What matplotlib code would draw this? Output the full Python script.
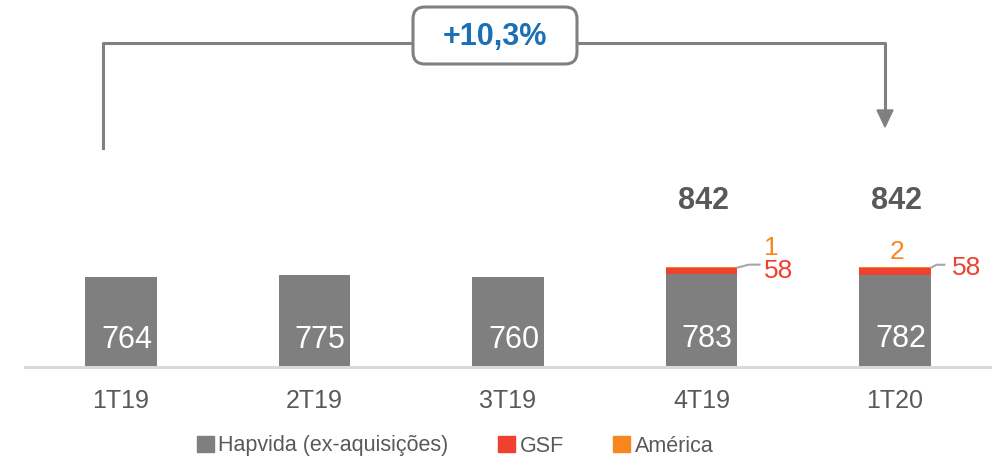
import matplotlib
matplotlib.use("Agg")
import matplotlib.pyplot as plt
import matplotlib.transforms as mtransforms
from matplotlib.patches import FancyBboxPatch, Patch
import numpy as np

plt.rcParams['font.family'] = ['Liberation Sans', 'DejaVu Sans']

# dados
quarters = ["1T19", "2T19", "3T19", "4T19", "1T20"]
hapvida = [764, 775, 760, 783, 782]
gsf = [0, 0, 0, 58, 58]
america = [0, 0, 0, 1, 2]
totals = [None, None, None, 842, 842]
growth_label = "+10,3%"

GRAY = "#7F7F7F"
RED = "#EE4130"
ORANGE = "#F7861E"
DARK = "#595959"
BLUE = "#1A6FB5"

W, H = 992, 462
fig = plt.figure(figsize=(W / 100, H / 100), dpi=100)
base_px = 95          # baseline (px from bottom)
scale = 0.1182        # px per unit
ax = fig.add_axes([0, base_px / H, 1, (H - base_px) / H])
x = np.arange(len(quarters))
ax.set_xlim(-121 / 193.5, (W - 121) / 193.5)
ax.set_ylim(0, (H - base_px) / scale)

bw = 0.372
hap = np.array(hapvida)
gs = np.array(gsf)
am = np.array(america)
ax.bar(x, hap, bw, color=GRAY, zorder=2)
ax.bar(x, gs, bw, bottom=hap, color=RED, zorder=2)
ax.bar(x, am, bw, bottom=hap + gs, color=ORANGE, zorder=2)

# baseline
blend = mtransforms.blended_transform_factory(ax.transAxes, ax.transData)
ax.plot([25 / W, 991 / W], [0, 0], transform=blend,
        color="#D9D9D9", lw=2.2, clip_on=False, zorder=3)

# posicoes das etiquetas laterais (GSF) por barra
gsf_text_dx = {3: 0.323, 4: 0.295}
gsf_text_dy = {3: -28, 4: 0}
lead_dx = {3: (0.245, 0.30), 4: (0.215, 0.255)}
am_dx = {3: 0.36, 4: 0.01}
am_dy = {3: 165, 4: 130}

for i in x:
    ax.text(i + 0.03, hap[i] * 0.3, str(hap[i]), ha="center", va="center",
            color="white", fontsize=22)
    if gs[i] > 0:
        top = hap[i] + gs[i]
        d1, d2 = lead_dx[i]
        ax.plot([i + bw / 2, i + d1, i + d2], [top, top + 25, top + 25],
                color="#A6A6A6", lw=1.5)
        ax.text(i + gsf_text_dx[i], top + gsf_text_dy[i], str(gs[i]),
                ha="left", va="center", color=RED, fontsize=19)
    if am[i] > 0:
        ax.text(i + am_dx[i], hap[i] + gs[i] + am_dy[i], str(am[i]),
                ha="center", va="center", color=ORANGE, fontsize=19)
    if totals[i]:
        ax.text(i + 0.01, 1405, str(totals[i]), ha="center", va="center",
                color=DARK, fontsize=22, fontweight="bold")

ax.set_xticks(x)
ax.set_xticklabels(quarters, fontsize=18, color=DARK)
ax.tick_params(axis="x", length=0, pad=16)
ax.set_yticks([])
for s in ax.spines.values():
    s.set_visible(False)
ax.patch.set_visible(False)

# colchete de crescimento (coordenadas em pixels da figura)
def fx(px):
    return px / W

def fy(py):
    return 1 - py / H

lc = "#808080"
fig.add_artist(plt.Line2D([fx(103), fx(103), fx(885), fx(885)],
                          [fy(148), fy(43), fy(43), fy(112)],
                          color=lc, lw=2.2, transform=fig.transFigure, zorder=1))
fig.add_artist(plt.Polygon([[fx(877), fy(110)], [fx(893), fy(110)], [fx(885), fy(127)]],
                           closed=True, color=lc, transform=fig.transFigure))
box = FancyBboxPatch((fx(413), fy(64)), fx(577) - fx(413), fy(7) - fy(64),
                     boxstyle="round,pad=0,rounding_size=0.012",
                     transform=fig.transFigure, facecolor="white",
                     edgecolor=lc, lw=2.2, mutation_aspect=W / H, zorder=3)
fig.add_artist(box)
fig.text(fx(495), fy(37), growth_label, ha="center", va="center",
         color=BLUE, fontsize=22, fontweight="bold", zorder=4)

handles = [Patch(color=GRAY), Patch(color=RED), Patch(color=ORANGE)]
fig.legend(handles, ["Hapvida (ex-aquisições)", "GSF", "América"],
           loc="center", bbox_to_anchor=(fx(455), fy(446)), ncol=3, frameon=False,
           fontsize=15.5, labelcolor=DARK, handlelength=0.8, handleheight=0.8,
           handletextpad=0.2, columnspacing=2.3)

fig.savefig("out.png", dpi=100)
